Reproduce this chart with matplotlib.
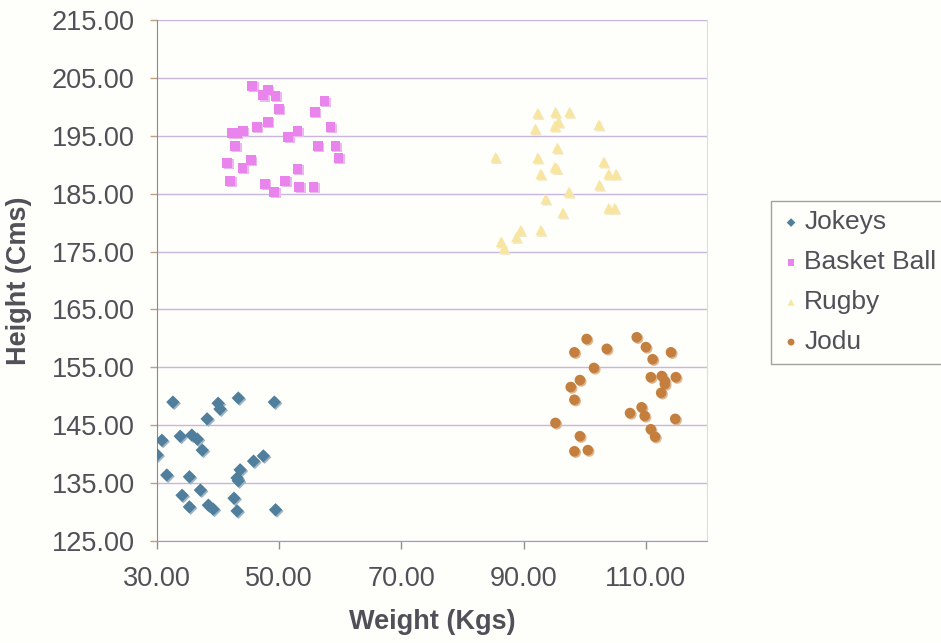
import numpy as np
import matplotlib as mpl
import matplotlib.pyplot as plt
from matplotlib import transforms

# weight (kg) / height (cm)
jokeys_w = [32.6, 40.0, 40.3, 43.3, 49.2, 38.2, 30.8, 33.8, 35.7, 36.6, 37.4, 30.0, 45.8, 47.4,
            31.6, 35.3, 43.6, 43.1, 43.3, 34.1, 37.1, 42.6, 35.3, 38.4, 39.2, 43.1, 49.4]
jokeys_h = [149.0, 148.8, 147.8, 149.7, 149.0, 146.1, 142.4, 143.1, 143.3, 142.6, 140.7, 139.9, 138.8, 139.7,
            136.4, 136.1, 137.3, 135.9, 135.4, 132.9, 133.8, 132.4, 130.9, 131.2, 130.5, 130.2, 130.4]

bball_w = [45.6, 48.1, 47.4, 49.4, 57.4, 49.9, 55.8, 48.1, 46.3, 44.1, 42.3, 43.1, 53.0, 51.5, 58.4,
           42.8, 56.3, 59.2, 41.5, 45.4, 44.0, 59.7, 53.0, 42.0, 47.7, 49.2, 51.0, 53.3, 55.6]
bball_h = [203.6, 202.9, 202.0, 201.9, 201.0, 199.6, 199.1, 197.4, 196.5, 195.8, 195.5, 195.5, 195.8, 194.8, 196.5,
           193.2, 193.2, 193.2, 190.3, 190.8, 189.4, 191.2, 189.3, 187.2, 186.7, 185.3, 187.2, 186.2, 186.2]

rugby_w = [92.3, 95.2, 97.5, 95.7, 95.1, 91.9, 102.3, 95.5, 85.4, 92.3, 95.1, 95.4, 92.8, 103.1,
           103.9, 105.1, 102.4, 97.4, 93.6, 96.4, 103.9, 104.9, 92.8, 89.5, 88.8, 86.3, 86.8]
rugby_h = [198.9, 199.1, 199.1, 197.4, 196.7, 196.2, 196.9, 192.9, 191.3, 191.2, 189.6, 189.4, 188.4, 190.5,
           188.4, 188.4, 186.5, 185.3, 184.1, 181.7, 182.5, 182.5, 178.7, 178.7, 177.5, 176.7, 175.6]

jodu_w = [100.3, 98.3, 103.6, 108.5, 110.0, 111.1, 114.1, 101.5, 99.2, 97.7, 98.3, 110.8, 112.6, 113.1,
          113.1, 114.9, 112.5, 107.4, 109.3, 109.8, 114.8, 95.2, 110.8, 111.5, 99.2, 98.3, 100.5]
jodu_h = [159.9, 157.6, 158.2, 160.2, 158.5, 156.4, 157.6, 154.9, 152.8, 151.6, 149.4, 153.3, 153.5, 152.6,
          152.1, 153.3, 150.6, 147.1, 148.1, 146.6, 146.1, 145.4, 144.3, 143.0, 143.1, 140.5, 140.7]

x_ticks = [30, 50, 70, 90, 110]
y_ticks = [125, 135, 145, 155, 165, 175, 185, 195, 205, 215]

txt = '#505058'
mpl.rcParams['font.family'] = ['Liberation Sans', 'DejaVu Sans']
mpl.rcParams['font.size'] = 19.5

fig = plt.figure(figsize=(9.41, 6.43), dpi=100, facecolor='#fefefa')
ax = fig.add_axes([157/941, 1-541/643, 550/941, 521/643])
ax.set_facecolor('#fefefa')

# small drop shadow like the old spreadsheet markers
shadow_tr = transforms.offset_copy(ax.transData, fig=fig, x=1.0, y=-1.0, units='points')
series = [
    (jokeys_w, jokeys_h, 'D', '#4f7f9c', '#9fb4c4', 46, 'Jokeys'),
    (bball_w, bball_h, 's', '#e884ec', '#eab8ee', 50, 'Basket Ball'),
    (rugby_w, rugby_h, '^', '#f8e6a0', '#f2e6c6', 58, 'Rugby'),
    (jodu_w, jodu_h, 'o', '#c47f3e', '#dcb894', 58, 'Jodu'),
]
for w, h, mk, col, shcol, sz, lab in series:
    ax.scatter(w, h, marker=mk, s=sz, color=shcol, edgecolors='none', transform=shadow_tr, zorder=2)
    ax.scatter(w, h, marker=mk, s=sz, color=col, edgecolors='none', label=lab, zorder=3)

ax.set_xlim(30, 120)
ax.set_ylim(125, 215)
ax.set_xticks(x_ticks)
ax.set_yticks(y_ticks)
ax.set_xticklabels(['{0:.2f}'.format(v) for v in x_ticks])
ax.set_yticklabels(['{0:.2f}'.format(v) for v in y_ticks])
ax.grid(axis='y', color='#c9b6dc', lw=1.0, zorder=1)
ax.set_axisbelow(True)

ax.spines['top'].set_visible(False)
ax.spines['right'].set_color('#e2e0cc')
ax.spines['left'].set_color('#8a8a8a')
ax.spines['bottom'].set_color('#a894c4')
ax.tick_params(axis='y', length=5, width=1, color='#c0a080', pad=11, labelcolor=txt)
ax.tick_params(axis='x', length=6, width=1, color='#909090', pad=12, labelcolor=txt)

ax.set_xlabel('Weight (Kgs)', fontweight='bold', color=txt, labelpad=12)
ax.set_ylabel('Height (Cms)', fontweight='bold', color=txt, labelpad=14)

leg = fig.legend(loc='upper left', bbox_to_anchor=(771/941, 1-201/643), frameon=True,
                 fancybox=False, edgecolor='#8a8a8a', facecolor='#fefefa', labelcolor=txt,
                 fontsize=19, handletextpad=0.1, handlelength=0.8, labelspacing=0.6, borderpad=0.36,
                 markerscale=0.65, borderaxespad=0)
leg.get_frame().set_linewidth(1.0)

plt.savefig('out.png', dpi=100, facecolor=fig.get_facecolor())
